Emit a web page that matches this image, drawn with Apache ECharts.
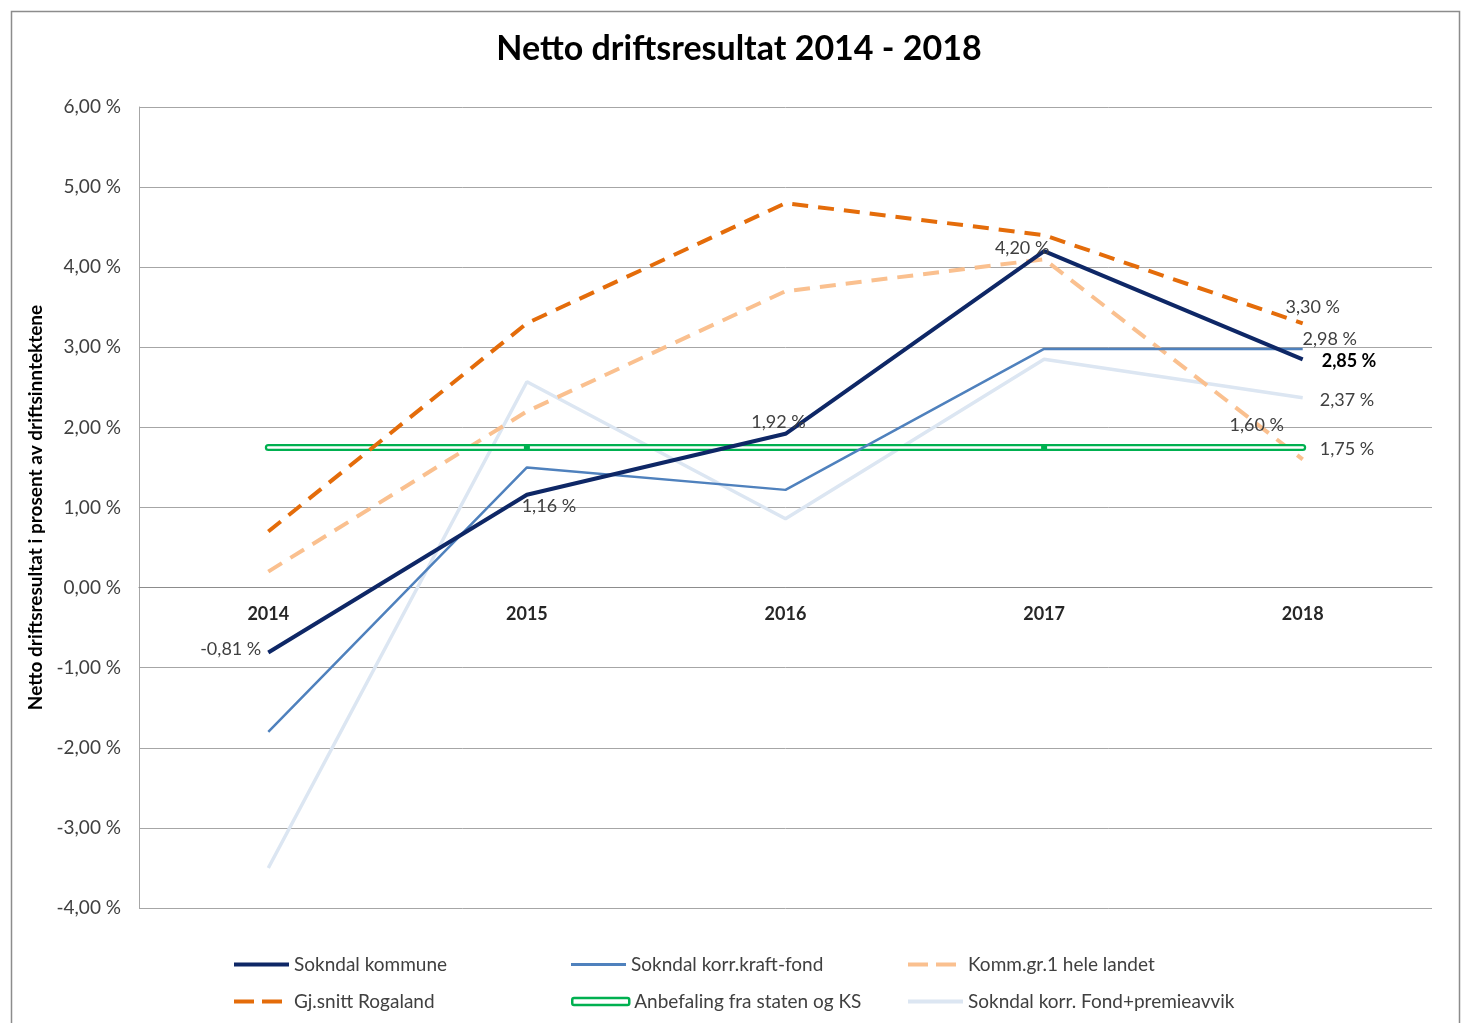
<!DOCTYPE html>
<html>
<head>
<meta charset="utf-8">
<title>Netto driftsresultat</title>
<style>
  html, body { margin: 0; padding: 0; background: #fff; }
  #chart { width: 1462px; height: 1023px; }
</style>
</head>
<body>
<div id="chart"></div>
<script src="https://cdn.jsdelivr.net/npm/echarts@6/dist/echarts.min.js"></script>
<script>
  // årstall og verdier (prosent)
  var years = ["2014", "2015", "2016", "2017", "2018"];
  var sokndal = [-0.81, 1.16, 1.92, 4.20, 2.85];
  var korrKraft = [-1.80, 1.50, 1.22, 2.98, 2.98];
  var kommGr1 = [0.20, 2.20, 3.70, 4.10, 1.60];
  var rogaland = [0.70, 3.30, 4.80, 4.40, 3.30];
  var anbefaling = [1.75, 1.75, 1.75, 1.75, 1.75];
  var korrFond = [-3.50, 2.57, 0.86, 2.85, 2.37];

  var FONT = "Lato, 'Open Sans', sans-serif";
  var TXT = "#404040";

  function pct(v) {
    return v.toFixed(2).replace(".", ",") + " %";
  }

  // label-oppsett per punkt
  function lbl(pos, off, bold) {
    return {
      show: true, position: pos, offset: off || [0, 0],
      formatter: function (p) { return pct(p.value); },
      color: bold ? "#000" : TXT, fontSize: 18, fontFamily: FONT,
      fontWeight: bold ? "bold" : "normal"
    };
  }
  function withLabels(arr, labels) {
    return arr.map(function (v, i) {
      return labels[i] ? { value: v, label: labels[i] } : v;
    });
  }

  var names = ["Sokndal kommune", "Sokndal korr.kraft-fond", "Komm.gr.1 hele landet",
    "Gj.snitt Rogaland", "Anbefaling fra staten og KS", "Sokndal korr. Fond+premieavvik"];

  var chart = echarts.init(document.getElementById("chart"), null, { renderer: "canvas" });

  var dashIcon = "path://M0,0h20v4h-20z M28,0h20v4h-20z";
  var legendPos = [[234, 955], [571, 955], [908, 955], [234, 992], [571, 992], [908, 992]];
  var legendIcons = [
    { icon: "rect", w: 55, h: 4, style: { color: "#0E2766" } },
    { icon: "rect", w: 55, h: 3, style: { color: "#4F81BD" } },
    { icon: dashIcon, w: 48, h: 4, style: { color: "#FAC08F" } },
    { icon: dashIcon, w: 48, h: 4, style: { color: "#E46C0A" } },
    { icon: "roundRect", w: 57, h: 7, style: { color: "#fff", borderColor: "#00B050", borderWidth: 2.5 } },
    { icon: "rect", w: 55, h: 4, style: { color: "#DCE6F2" } }
  ];
  var legends = names.map(function (n, i) {
    var ic = legendIcons[i];
    return {
      data: [{ name: n, icon: ic.icon, itemStyle: ic.style }],
      left: legendPos[i][0], top: legendPos[i][1], padding: 0,
      itemWidth: ic.w, itemHeight: ic.h, itemGap: 4, selectedMode: false,
      symbolKeepAspect: false,
      textStyle: { fontSize: 19, color: TXT, fontFamily: FONT, padding: [0, 0, 0, ic.w < 55 ? 55 - ic.w : 0] }
    };
  });

  function line(name, data, color, width, dash, z) {
    return {
      name: name, type: "line", data: data,
      symbol: "circle", symbolSize: 0, showSymbol: true, emphasis: { disabled: true },
      lineStyle: { color: color, width: width, type: dash || "solid" },
      itemStyle: { color: color }, z: z
    };
  }

  var option = {
    backgroundColor: "#fff",
    animation: false,
    title: {
      text: "Netto driftsresultat 2014 - 2018",
      left: 734, top: 27, textAlign: "center",
      textStyle: { fontSize: 34, fontWeight: "bold", color: "#000", fontFamily: FONT }
    },
    graphic: [{
      type: "rect", left: 9, top: 9, silent: true,
      shape: { width: 1448, height: 1030 },
      style: { fill: "none", stroke: "#8c8c8c", lineWidth: 1.5 }
    }],
    legend: legends,
    grid: { left: 139, right: 30, top: 107, bottom: 115 },
    xAxis: {
      type: "category", data: years, boundaryGap: true,
      offset: -320.4,
      axisLine: { onZero: false, lineStyle: { color: "#8c8c8c", width: 1 } },
      axisTick: { show: false },
      axisLabel: { fontSize: 18, fontWeight: "bold", color: "#262626", fontFamily: FONT, margin: 18 }
    },
    yAxis: {
      type: "value", min: -4, max: 6, interval: 1,
      name: "Netto driftsresultat i prosent av driftsinntektene",
      nameLocation: "middle", nameGap: 88, nameRotate: 90,
      nameTextStyle: { fontSize: 19, fontWeight: "bold", color: "#000", fontFamily: FONT },
      axisLine: { show: true, lineStyle: { color: "#a6a6a6" } },
      axisTick: { show: false },
      splitLine: { lineStyle: { color: "#a6a6a6", width: 1 } },
      axisLabel: {
        fontSize: 19, color: TXT, fontFamily: FONT, margin: 18,
        formatter: function (v) { return pct(v); }
      }
    },
    series: [
      line(names[5], withLabels(korrFond, [null, null, null, null, lbl("right", [12, 2])]),
        "#DCE6F2", 3.5, null, 2),
      line(names[2], withLabels(kommGr1, [null, null, null, null, lbl("top", [-46, -20])]),
        "#FAC08F", 4, [16, 10], 3),
      (function () {
        var s = line(names[4], withLabels(anbefaling, [null, null, null, null, lbl("right", [12, 2])]),
          "#00B050", 7, null, 4);
        s.lineStyle.cap = "round";
        return s;
      })(),
      {
        name: "anbefaling-inner", type: "line", data: anbefaling,
        symbol: "rect", showSymbol: true, emphasis: { disabled: true },
        symbolSize: function (v, p) { return (p.dataIndex === 1 || p.dataIndex === 3) ? 6 : 0; },
        lineStyle: { color: "#ffffff", width: 2.5, cap: "round" },
        itemStyle: { color: "#00B050", borderWidth: 0 }, z: 5
      },
      line(names[1], withLabels(korrKraft, [null, null, null, null, lbl("top", [27, 4])]),
        "#4F81BD", 2.5, null, 6),
      line(names[3], withLabels(rogaland, [null, null, null, null, lbl("top", [10, -2])]),
        "#E46C0A", 4, [16, 10], 7),
      line(names[0], withLabels(sokndal, [
          lbl("left", [-2, -3]),
          lbl("bottom", [22, -2]),
          lbl("top", [-7, 2]),
          lbl("top", [-22, 11]),
          lbl("right", [14, 2], true)
        ]), "#0E2766", 4, null, 8)
    ]
  };

  chart.setOption(option);
  window.addEventListener("resize", chart.resize);
</script>
</body>
</html>
